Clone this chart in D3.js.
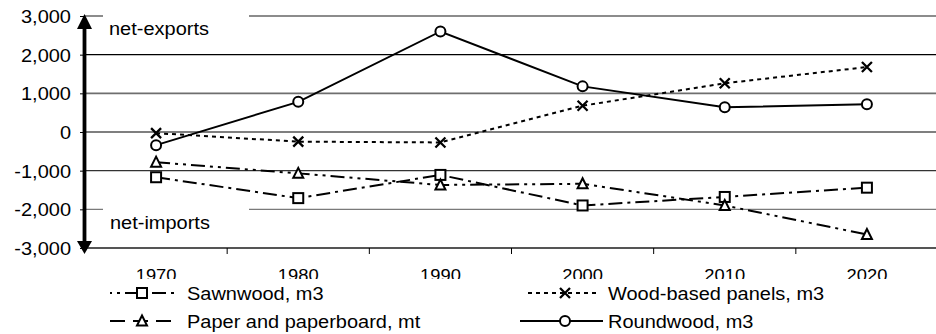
<!DOCTYPE html>
<html>
<head>
<meta charset="utf-8">
<script src="https://cdn.jsdelivr.net/npm/d3@7"></script>
<style>
  html, body { margin: 0; padding: 0; background: #fff; }
  svg { display: block; }
  svg text { font-family: "Liberation Sans", Arial, sans-serif; }
</style>
</head>
<body>
<svg id="chart" width="936" height="334"></svg>
<script>
// ---- data ----
const years = ["1970", "1980", "1990", "2000", "2010", "2020"];
const sawnwood = [-1170, -1710, -1110, -1900, -1680, -1440];
const panels = [-30, -250, -270, 680, 1260, 1680];
const paper = [-780, -1070, -1370, -1340, -1900, -2650];
const roundwood = [-340, 780, 2600, 1180, 640, 720];
const yTicks = [-3000, -2000, -1000, 0, 1000, 2000, 3000];
const seriesNames = ["Sawnwood, m3", "Wood-based panels, m3", "Paper and paperboard, mt", "Roundwood, m3"];
const annotations = ["net-exports", "net-imports"];

const series = [
  { name: seriesNames[0], values: sawnwood, marker: "square", dash: "14,5,3,5", legOff: 12 },
  { name: seriesNames[1], values: panels, marker: "cross", dash: "4,4", legOff: 0 },
  { name: seriesNames[2], values: paper, marker: "triangle", dash: "14,5,3,5,3,5", legOff: 0 },
  { name: seriesNames[3], values: roundwood, marker: "circle", dash: null, legOff: 0 }
];

const SX = 1.08; // horizontal text stretch
const FONT = '"Liberation Sans", Arial, sans-serif';
const svg = d3.select("#chart");

const x = d3.scaleBand().domain(years).range([85, 938]).paddingInner(0).paddingOuter(0);
const y = d3.scaleLinear().domain([-3000, 3000]).range([248, 16]);
const fmt = d3.formatLocale({ decimal: ".", thousands: ",", grouping: [3], currency: ["", ""], minus: "-" }).format(",");

function stretchText(sel, px, py) {
  sel.attr("x", 0).attr("y", 0).attr("transform", `translate(${px},${py}) scale(${SX},1)`)
    .attr("font-family", FONT);
}

// ---- gridlines ----
const gridStyle = {
  "3000": { c: "#8c8c8c", w: 2.2 },
  "2000": { c: "#000", w: 1.2 },
  "1000": { c: "#6e6e6e", w: 1.6 },
  "0": { c: "#000", w: 1.2 },
  "-1000": { c: "#333", w: 1.3 },
  "-2000": { c: "#7a7a7a", w: 1.2 },
  "-3000": { c: "#555", w: 2 }
};
svg.append("g").selectAll("line").data(yTicks).join("line")
  .attr("x1", 84).attr("x2", 936)
  .attr("y1", d => y(d)).attr("y2", d => y(d))
  .attr("stroke", d => gridStyle[d].c)
  .attr("stroke-width", d => gridStyle[d].w);

// label boxes covering grid lines
svg.append("rect").attr("x", 103).attr("y", 6).attr("width", 146).attr("height", 30).attr("fill", "#fff");
svg.append("rect").attr("x", 103).attr("y", 202).attr("width", 146).attr("height", 32).attr("fill", "#fff");

// annotation texts
stretchText(svg.append("text").text(annotations[0]).attr("font-size", 18.5).attr("fill", "#000"), 109, 35);
stretchText(svg.append("text").text(annotations[1]).attr("font-size", 18.5).attr("fill", "#000"), 110, 229);

// ---- x axis ----
const xAxisG = svg.append("g").attr("transform", `translate(0,${y(-3000)})`)
  .call(d3.axisBottom(x).tickSize(0).tickPadding(0))
  .attr("font-family", FONT);
xAxisG.select(".domain").remove();
xAxisG.selectAll(".tick text")
  .attr("font-size", 17).attr("fill", "#000")
  .attr("y", 0).attr("dy", 0)
  .attr("transform", `translate(0,33) scale(${SX},1)`);
// boundary tick marks
svg.append("g").selectAll("line").data(years.slice(0, -1)).join("line")
  .attr("x1", d => x(d) + x.bandwidth()).attr("x2", d => x(d) + x.bandwidth())
  .attr("y1", y(-3000)).attr("y2", y(-3000) + 6)
  .attr("stroke", "#000").attr("stroke-width", 1);
// clip lower part of year labels (covered by legend area)
svg.append("rect").attr("x", 0).attr("y", 279).attr("width", 936).attr("height", 55).attr("fill", "#fff");

// ---- y axis ----
const yAxisG = svg.append("g").attr("transform", "translate(84,0)")
  .call(d3.axisLeft(y).tickValues(yTicks).tickFormat(fmt).tickSize(4).tickPadding(0))
  .attr("font-family", FONT);
yAxisG.select(".domain").remove();
yAxisG.selectAll(".tick line").attr("stroke", "#000").attr("stroke-width", 1);
yAxisG.selectAll(".tick text")
  .attr("font-size", 18.5).attr("fill", "#000")
  .attr("x", 0).attr("dy", "0.35em")
  .attr("transform", `translate(-13,0) scale(${SX},1)`);

// arrow axis
svg.append("line").attr("x1", 84.5).attr("x2", 84.5).attr("y1", 26).attr("y2", 244)
  .attr("stroke", "#000").attr("stroke-width", 3.8);
svg.append("path").attr("d", `M84.5,14 L77,29 L92,29 Z`).attr("fill", "#000");
svg.append("path").attr("d", `M84.5,254 L77,241 L92,241 Z`).attr("fill", "#000");

// ---- series ----
const cx = i => x(years[i]) + x.bandwidth() / 2;
const line = d3.line().x((d, i) => cx(i)).y(d => y(d));

function drawMarker(g, type, px, py) {
  const m = g.append("g").attr("transform", `translate(${px},${py})`);
  if (type === "square") {
    m.append("rect").attr("x", -5).attr("y", -5).attr("width", 10).attr("height", 10)
      .attr("fill", "#fff").attr("stroke", "#000").attr("stroke-width", 2);
  } else if (type === "circle") {
    m.append("circle").attr("r", 5).attr("fill", "#fff")
      .attr("stroke", "#000").attr("stroke-width", 2);
  } else if (type === "triangle") {
    m.append("path").attr("d", "M0,-5.5 L5,4.5 L-5,4.5 Z").attr("fill", "#fff")
      .attr("stroke", "#000").attr("stroke-width", 2);
  } else if (type === "cross") {
    m.append("path").attr("d", "M-5,-5 L5,5 M-5,5 L5,-5").attr("fill", "none")
      .attr("stroke", "#000").attr("stroke-width", 2.3);
  }
}

const seriesG = svg.append("g");
series.forEach(s => {
  seriesG.append("path").datum(s.values).attr("d", line)
    .attr("fill", "none").attr("stroke", "#000").attr("stroke-width", 2)
    .attr("stroke-dasharray", s.dash);
});
series.forEach(s => {
  s.values.forEach((v, i) => drawMarker(seriesG, s.marker, cx(i), y(v)));
});

// ---- legend ----
const legendPos = [
  { x1: 110, x2: 177, mx: 142, tx: 187, y: 293 },
  { x1: 528, x2: 600, mx: 565, tx: 608, y: 293 },
  { x1: 110, x2: 177, mx: 142, tx: 187, y: 321 },
  { x1: 520, x2: 603, mx: 565, tx: 608, y: 321 }
];
const legendG = svg.append("g");
series.forEach((s, i) => {
  const p = legendPos[i];
  legendG.append("line").attr("x1", p.x1).attr("x2", p.x2).attr("y1", p.y).attr("y2", p.y)
    .attr("stroke", "#000").attr("stroke-width", 2)
    .attr("stroke-dasharray", s.dash ? (i === 2 ? "15,8" : s.dash) : null)
    .attr("stroke-dashoffset", i === 2 ? 0 : s.legOff);
  drawMarker(legendG, s.marker, p.mx, p.y);
  stretchText(legendG.append("text").text(s.name).attr("font-size", 18.5).attr("fill", "#000"), p.tx, p.y + 6.5);
});
</script>
</body>
</html>
